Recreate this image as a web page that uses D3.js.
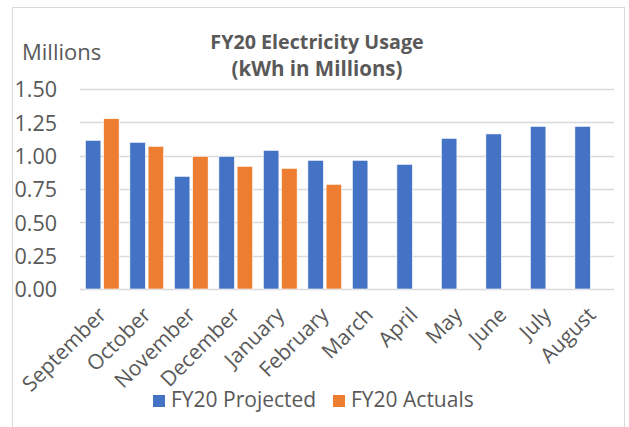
<!DOCTYPE html>
<html>
<head>
<meta charset="utf-8">
<script src="https://cdn.jsdelivr.net/npm/d3@7"></script>
<style>
  html, body { margin: 0; padding: 0; background: #fff; }
  svg { display: block; font-family: "Open Sans", Lato, sans-serif; }
</style>
</head>
<body>
<svg id="chart" width="629" height="427"></svg>
<script>
const months = ["September","October","November","December","January","February","March","April","May","June","July","August"];
const seriesNames = ["FY20 Projected","FY20 Actuals"];
const projected = [1.115, 1.10, 0.845, 0.995, 1.04, 0.965, 0.965, 0.935, 1.13, 1.163, 1.22, 1.22];
const actuals = [1.277, 1.07, 0.995, 0.92, 0.905, 0.785, null, null, null, null, null, null];
const yTicks = [0, 0.25, 0.5, 0.75, 1.0, 1.25, 1.5];
const colors = ["#4472C4", "#ED7D31"];
const textColor = "#595959";
const fontFamily = "'Open Sans', Lato, sans-serif";

const svg = d3.select("#chart");

// chart border
svg.append("rect").attr("x", 12.5).attr("y", 7.5).attr("width", 612).attr("height", 430)
  .attr("fill", "#fff").attr("stroke", "#d9d9d9").attr("stroke-width", 1);

const plot = {left: 80, right: 614, top: 89, bottom: 289};

const y = d3.scaleLinear().domain([0, 1.5]).range([plot.bottom, plot.top]);
const x0 = d3.scaleBand().domain(months).range([plot.left, plot.right]).paddingInner(0).paddingOuter(0);
const x1 = d3.scaleBand().domain(seriesNames).range([0, x0.bandwidth()]).paddingInner(0.15).paddingOuter(0.295);

// gridlines
svg.append("g").selectAll("line").data(yTicks).join("line")
  .attr("x1", plot.left).attr("x2", plot.right)
  .attr("y1", d => Math.round(y(d)) + 0.5).attr("y2", d => Math.round(y(d)) + 0.5)
  .attr("stroke", "#d9d9d9").attr("stroke-width", 1.5);

// y axis labels
const yAxis = d3.axisLeft(y).tickValues(yTicks).tickFormat(d3.format(".2f")).tickSize(0).tickPadding(0);
const yg = svg.append("g").attr("transform", `translate(57,0)`).call(yAxis);
yg.select(".domain").remove();
yg.selectAll("text").attr("fill", textColor).style("font-size", "21.5px").style("font-family", fontFamily).attr("dy", "0.36em");

// bars
const data = months.map((m, i) => ({month: m, values: [projected[i], actuals[i]]}));
const groups = svg.append("g").selectAll("g").data(data).join("g")
  .attr("transform", d => `translate(${x0(d.month)},0)`);
groups.selectAll("rect")
  .data(d => d.values.map((v, j) => ({series: seriesNames[j], v, j})).filter(e => e.v != null))
  .join("rect")
  .attr("x", e => x1(e.series))
  .attr("width", x1.bandwidth())
  .attr("y", e => y(e.v))
  .attr("height", e => y(0) - y(e.v))
  .attr("fill", e => colors[e.j])
  .attr("stroke", "#fff").attr("stroke-width", 0.6);

// x axis labels
const xAxis = d3.axisBottom(x0).tickSize(0).tickPadding(0);
const xg = svg.append("g").attr("transform", `translate(0,${plot.bottom})`).call(xAxis);
xg.select(".domain").remove();
xg.selectAll("text")
  .attr("fill", textColor).style("font-size", "21px").style("font-family", fontFamily)
  .attr("text-anchor", "end")
  .attr("dy", "0.35em")
  .attr("transform", "translate(0,22) rotate(-45)");

// title
svg.append("text").attr("x", 317).attr("y", 49).attr("text-anchor", "middle")
  .attr("fill", textColor).style("font-size", "19.7px").style("font-weight", "bold").text("FY20 Electricity Usage");
svg.append("text").attr("x", 317).attr("y", 76).attr("text-anchor", "middle")
  .attr("fill", textColor).style("font-size", "20.5px").style("font-weight", "bold").text("(kWh in Millions)");

// units label
svg.append("text").attr("x", 22).attr("y", 60).attr("fill", textColor).style("font-size", "22px").text("Millions");

// legend
const legendX = [153, 333];
const legend = svg.append("g").selectAll("g").data(seriesNames).join("g")
  .attr("transform", (d, i) => `translate(${legendX[i]},395)`);
legend.append("rect").attr("width", 12).attr("height", 12).attr("fill", (d, i) => colors[i]);
legend.append("text").attr("x", 18).attr("y", 12).attr("fill", textColor).style("font-size", "21px").text(d => d);
</script>
</body>
</html>
